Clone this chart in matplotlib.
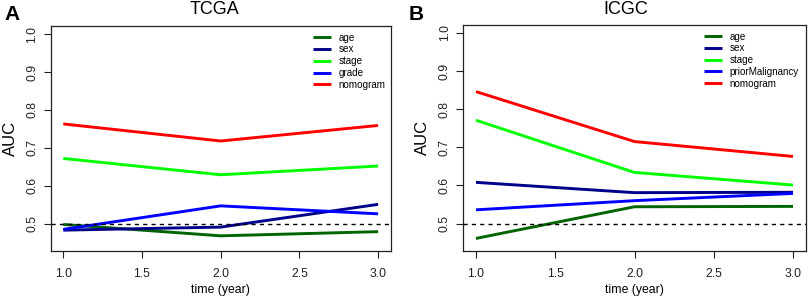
import matplotlib
matplotlib.use("Agg")
import matplotlib.pyplot as plt

plt.rcParams['font.family'] = ['Liberation Sans', 'DejaVu Sans']

years = [1.0, 2.0, 3.0]

# TCGA
tcga_labels = ["age", "sex", "stage", "grade", "nomogram"]
tcga_age = [0.498, 0.468, 0.479]
tcga_sex = [0.483, 0.491, 0.551]
tcga_stage = [0.672, 0.629, 0.652]
tcga_grade = [0.485, 0.547, 0.526]
tcga_nomogram = [0.763, 0.718, 0.759]

# ICGC
icgc_labels = ["age", "sex", "stage", "priorMalignancy", "nomogram"]
icgc_age = [0.461, 0.544, 0.545]
icgc_sex = [0.608, 0.581, 0.582]
icgc_stage = [0.771, 0.634, 0.601]
icgc_prior = [0.536, 0.560, 0.579]
icgc_nomogram = [0.846, 0.715, 0.676]

colors = ["#006400", "#00008B", "#00FF00", "#0000FF", "#FF0000"]
yticks = [0.5, 0.6, 0.7, 0.8, 0.9, 1.0]
xticks = [1.0, 1.5, 2.0, 2.5, 3.0]

W, H = 809, 299
fig = plt.figure(figsize=(W / 100, H / 100), dpi=100)


def make_axes(l, r, t, b):
    return fig.add_axes([l / W, 1 - b / H, (r - l) / W, (b - t) / H])


def draw(ax, series, labels, title, letter, title_x, letter_x, leg_x):
    for vals, lab, c in zip(series, labels, colors):
        ax.plot(years, vals, color=c, lw=2.1, label=lab, solid_capstyle='butt')
    ax.axhline(0.5, color='black', lw=1.0, ls=(0, (3, 3)))
    ax.set_xlim(1 - 0.08, 3 + 0.08)
    ax.set_ylim(0.45 - 0.022, 1.0 + 0.022)
    ax.set_xticks(xticks)
    ax.set_xticklabels([f"{v:.1f}" for v in xticks])
    ax.set_yticks(yticks)
    ax.set_yticklabels([f"{v:.1f}" for v in yticks], rotation=90, va='center')
    ax.tick_params(axis='both', direction='out', length=5, width=0.8, labelsize=8.7, colors='#222222')
    ax.tick_params(axis='x', pad=7)
    ax.tick_params(axis='y', pad=4)
    for s in ax.spines.values():
        s.set_linewidth(0.9)
        s.set_color('#222222')
    ax.set_xlabel("time (year)", fontsize=8.8, labelpad=3)
    ax.set_ylabel("AUC", fontsize=12, labelpad=6)
    ax.legend(loc='upper left', bbox_to_anchor=(leg_x, 0.969), frameon=False,
              fontsize=7.1, handlelength=1.85, handletextpad=0.75,
              labelspacing=0.18, borderpad=0, borderaxespad=0)
    fig.text(title_x / W, 1 - 9 / H, title, fontsize=13, ha='center', va='center')
    fig.text(letter_x / W, 1 - 15 / H, letter, fontsize=15, fontweight='bold', ha='left', va='center')


axA = make_axes(50.7, 390.7, 25.7, 251.0)
draw(axA, [tcga_age, tcga_sex, tcga_stage, tcga_grade, tcga_nomogram], tcga_labels,
     "TCGA", "A", 214, 4, 0.771)

axB = make_axes(463.3, 805.7, 24.5, 251.0)
draw(axB, [icgc_age, icgc_sex, icgc_stage, icgc_prior, icgc_nomogram], icgc_labels,
     "ICGC", "B", 625.5, 409, 0.703)

fig.savefig("out.png", dpi=100)
